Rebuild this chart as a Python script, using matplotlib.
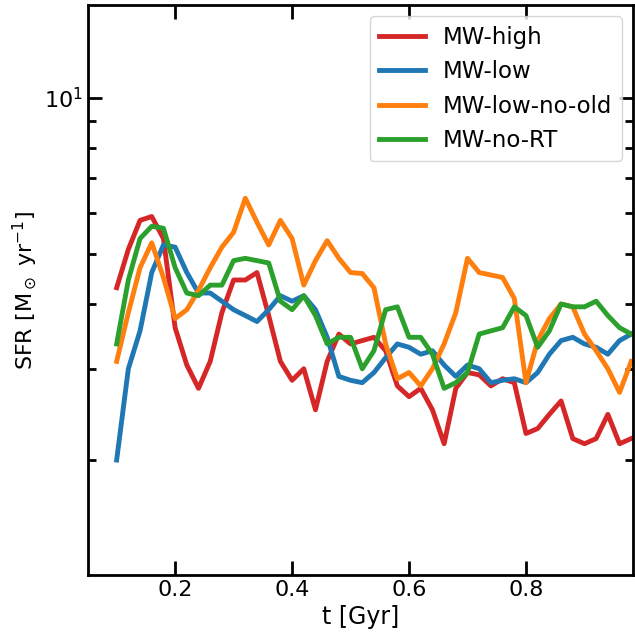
import matplotlib.pyplot as plt
import numpy as np

t = np.round(np.arange(0.10, 0.981, 0.02), 2)

mw_high = [4.3, 5.1, 5.8, 5.9, 5.35, 3.6, 3.05, 2.75, 3.1, 3.85, 4.45, 4.45, 4.6, 3.8, 3.1, 2.85,
           3.0, 2.5, 3.1, 3.5, 3.35, 3.4, 3.45, 3.25, 2.78, 2.65, 2.75, 2.5, 2.15, 2.75, 2.95,
           2.92, 2.78, 2.87, 2.82, 2.25, 2.3, 2.45, 2.6, 2.2, 2.15, 2.2, 2.45, 2.15, 2.2]
mw_low = [2.0, 3.0, 3.55, 4.6, 5.2, 5.15, 4.6, 4.2, 4.2, 4.05, 3.9, 3.8, 3.7, 3.9, 4.15, 4.05,
          4.15, 3.9, 3.45, 2.9, 2.85, 2.82, 2.95, 3.15, 3.35, 3.3, 3.2, 3.25, 3.05, 2.9, 3.05,
          3.0, 2.82, 2.85, 2.87, 2.82, 2.95, 3.2, 3.4, 3.45, 3.35, 3.3, 3.2, 3.4, 3.5]
mw_low_no_old = [3.1, 3.85, 4.7, 5.25, 4.5, 3.75, 3.9, 4.25, 4.7, 5.15, 5.5, 6.4, 5.75, 5.2, 5.8, 5.35,
                 4.35, 4.85, 5.3, 4.9, 4.6, 4.58, 4.3, 3.35, 2.87, 2.95, 2.78, 3.0, 3.35, 3.85, 4.9,
                 4.6, 4.55, 4.5, 4.1, 2.82, 3.4, 3.75, 4.0, 3.95, 3.5, 3.25, 3.0, 2.7, 3.1]
mw_no_rt = [3.35, 4.45, 5.35, 5.65, 5.6, 4.7, 4.2, 4.15, 4.35, 4.35, 4.85, 4.9, 4.85, 4.8, 4.05, 3.9,
            4.15, 3.8, 3.35, 3.45, 3.45, 3.0, 3.25, 3.9, 3.95, 3.45, 3.45, 3.2, 2.75, 2.82, 2.95,
            3.5, 3.55, 3.6, 3.95, 3.8, 3.3, 3.55, 4.0, 3.95, 3.95, 4.05, 3.8, 3.6, 3.5]

fig = plt.figure(figsize=(6.35, 6.33), dpi=100)
ax = fig.add_axes([88/635, 58/633, 545/635, 570/633])

ax.plot(t, mw_high, color='#d62728', lw=3.5, label='MW-high')
ax.plot(t, mw_low, color='#1f77b4', lw=3.5, label='MW-low')
ax.plot(t, mw_low_no_old, color='#ff7f0e', lw=3.5, label='MW-low-no-old')
ax.plot(t, mw_no_rt, color='#2ca02c', lw=3.5, label='MW-no-RT')

ax.set_yscale('log')
ax.set_ylim(1.2, 15.1)
ax.set_xlim(0.051, 0.983)
ax.set_xticks([0.2, 0.4, 0.6, 0.8])
ax.set_xlabel('t [Gyr]', fontsize=17)
ax.set_ylabel(r'SFR [M$_\odot$ yr$^{-1}$]', fontsize=16)
ax.tick_params(which='both', direction='in', top=True, right=True, labelsize=16, width=2)
ax.tick_params(which='major', length=10)
ax.tick_params(which='minor', length=6, labelleft=False)
for s in ax.spines.values():
    s.set_linewidth(2)

ax.legend(loc='upper right', fontsize=16.5, handlelength=2, borderaxespad=0.5)
fig.savefig('out.png')
